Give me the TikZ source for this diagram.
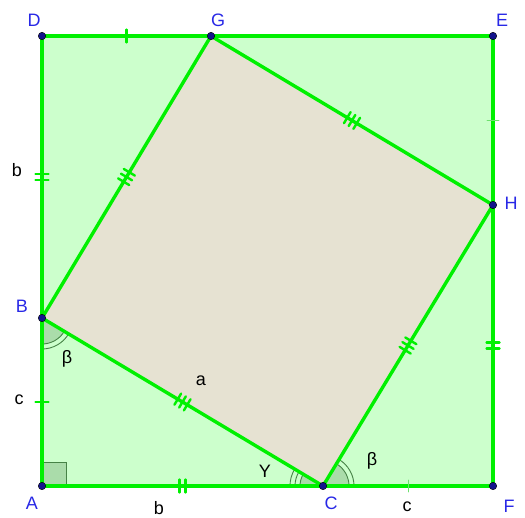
\documentclass[tikz,border=0pt]{standalone}
\usepackage{fontspec}
\setmainfont{Liberation Sans}
\usetikzlibrary{decorations.markings}
\definecolor{lineG}{RGB}{0,240,0}
\definecolor{outerF}{RGB}{204,255,204}
\definecolor{innerF}{RGB}{230,226,210}
\definecolor{angF}{RGB}{170,220,170}
\definecolor{angL}{RGB}{70,130,70}
\definecolor{lightT}{RGB}{110,225,110}
\definecolor{ptF}{RGB}{20,20,140}
\definecolor{labB}{RGB}{40,40,230}
\tikzset{
  x=1pt,y=1pt,
  side/.style={draw=lineG,line width=3.4pt,line cap=round},
  tickone/.style={postaction={decorate,decoration={markings,
     mark=at position 0.5 with {\draw[lineG,line width=2.2pt] (0,-6.5) -- (0,6.5);}}}},
  ticklight/.style={postaction={decorate,decoration={markings,
     mark=at position 0.5 with {\draw[lightT,line width=0.9pt] (0,-6) -- (0,6);}}}},
  ticktwo/.style={postaction={decorate,decoration={markings,
     mark=at position 0.5 with {\draw[lineG,line width=2.4pt] (-3,-6.5) -- (-3,6.5) (3,-6.5) -- (3,6.5);}}}},
  tickthree/.style={postaction={decorate,decoration={markings,
     mark=at position 0.5 with {\draw[lineG,line width=2.4pt,line cap=round] (-5.5,-6.5) -- (-5.5,6.5) (0,-6.5) -- (0,6.5) (5.5,-6.5) -- (5.5,6.5);}}}},
  dot/.style={circle,fill=ptF,draw=black,line width=0.4pt,inner sep=0pt,minimum size=7.5pt},
  ptlab/.style={text=labB,font=\fontsize{18}{21}\selectfont,inner sep=0pt},
  txtlab/.style={text=black,font=\fontsize{18}{21}\selectfont,inner sep=0pt},
  arcline/.style={draw=angL,line width=0.9pt},
}
\begin{document}
\begin{tikzpicture}
\useasboundingbox (0,0) rectangle (525,517);
\coordinate (A) at (42,31);
\coordinate (B) at (42,199);
\coordinate (C) at (323,31);
\coordinate (D) at (42,481);
\coordinate (E) at (493,481);
\coordinate (F) at (493,31);
\coordinate (G) at (211,481);
\coordinate (H) at (493,312);
% fills
\fill[outerF] (A) -- (F) -- (E) -- (D) -- cycle;
\fill[innerF] (B) -- (C) -- (H) -- (G) -- cycle;
% right angle at A
\filldraw[fill=angF,draw=angL,line width=0.9pt] (A) rectangle ++(24,24);
% angle beta at B
\fill[angF] (B) -- ++(270:26) arc (270:329.13:26) -- cycle;
\draw[arcline] (B) ++(270:26) arc (270:329.13:26);
\draw[arcline] (B) ++(270:31) arc (270:329.13:31);
% angle beta at C
\fill[angF] (C) -- ++(0:26) arc (0:58.83:26) -- cycle;
\draw[arcline] (C) ++(0:26) arc (0:58.83:26);
\draw[arcline] (C) ++(0:31) arc (0:58.83:31);
% angle gamma at C
\fill[angF] (C) -- ++(149.13:23) arc (149.13:180:23) -- cycle;
\draw[arcline] (C) ++(149.13:23) arc (149.13:180:23);
\draw[arcline] (C) ++(149.13:28) arc (149.13:180:28);
\draw[arcline] (C) ++(149.13:33) arc (149.13:180:33);
% sides of outer square
\draw[side,tickone] (A) -- (B);
\draw[side,ticktwo] (B) -- (D);
\draw[side,tickone] (D) -- (G);
\draw[side] (G) -- (E);
\draw[side,ticklight] (E) -- (H);
\draw[side,ticktwo] (H) -- (F);
\draw[side,ticklight] (F) -- (C);
\draw[side,ticktwo] (C) -- (A);
% inner square
\draw[side,tickthree] (B) -- (C);
\draw[side,tickthree] (C) -- (H);
\draw[side,tickthree] (H) -- (G);
\draw[side,tickthree] (G) -- (B);
% points
\foreach \p in {A,B,C,D,E,F,G,H} \node[dot] (dot\p) at (\p) {};
% labels
\node[ptlab] (lD) at (34,497) {D};
\node[ptlab] (lG) at (218,497) {G};
\node[ptlab] (lE) at (502,497) {E};
\node[ptlab] (lH) at (511,314) {H};
\node[ptlab] (lB) at (22,211) {B};
\node[ptlab] (lA) at (32,14) {A};
\node[ptlab] (lC) at (331,14) {C};
\node[ptlab] (lF) at (509,11) {F};
\node[txtlab] (lb1) at (17,347) {b};
\node[txtlab] (lc1) at (19,117) {c};
\node[txtlab] (la) at (201,136) {a};
\node[txtlab] (lb2) at (159,9) {b};
\node[txtlab] (lc2) at (407,10) {c};
\node[txtlab] (lbetaB) at (67,158) {β};
\node[txtlab] (lbetaC) at (372,56) {β};
\node[txtlab] (lgam) at (265,46) {Y};
\end{tikzpicture}
\end{document}
